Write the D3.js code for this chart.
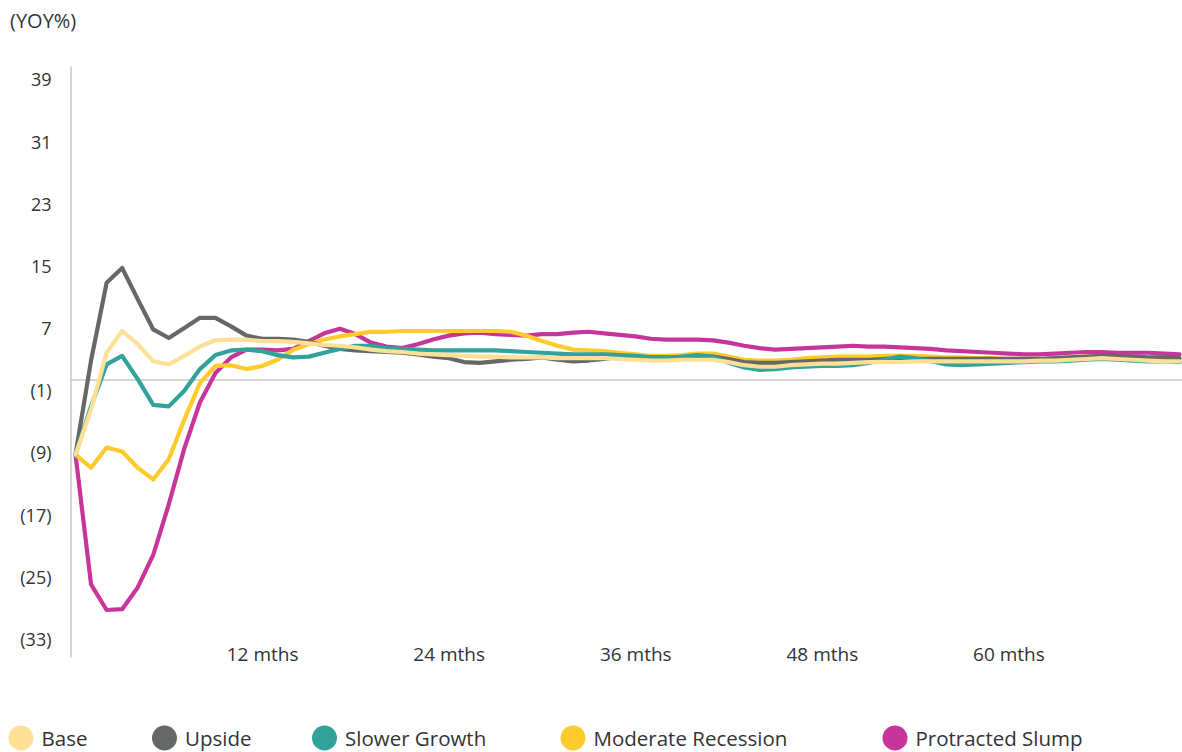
<!DOCTYPE html>
<html>
<head>
<meta charset="utf-8">
<script src="https://cdn.jsdelivr.net/npm/d3@7"></script>
<style>
  html, body { margin: 0; padding: 0; background: #ffffff; }
  svg { display: block; font-family: "Open Sans", "Noto Sans", sans-serif; }
</style>
</head>
<body>
<svg id="chart" width="1182" height="752"></svg>
<script>
// Monthly year-on-year change (%) per scenario, month 0 .. 71
const months = d3.range(0, 72);

const base = [
  -9.6, -3.8, 3.5, 6.3, 4.6, 2.4, 2.0, 3.1, 4.3, 5.1, 5.2, 5.2,
  5.0, 5.0, 4.9, 4.7, 4.5, 4.4, 4.2, 3.9, 3.7, 3.6, 3.4, 3.3,
  3.2, 3.1, 3.0, 3.0, 2.9, 2.9, 2.9, 2.8, 2.8, 2.8, 2.8, 2.7,
  2.6, 2.5, 2.5, 2.6, 2.6, 2.6, 2.3, 1.9, 1.7, 1.7, 1.9, 2.0,
  2.1, 2.1, 2.2, 2.3, 2.3, 2.3, 2.4, 2.4, 2.4, 2.4, 2.4, 2.4,
  2.4, 2.4, 2.5, 2.5, 2.6, 2.7, 2.8, 2.7, 2.6, 2.5, 2.4, 2.4
];

const upside = [
  -9.6, 2.5, 12.5, 14.4, 10.4, 6.5, 5.4, 6.7, 8.0, 8.0, 6.9, 5.7,
  5.3, 5.3, 5.2, 4.9, 4.4, 4.0, 3.8, 3.7, 3.6, 3.5, 3.3, 3.0,
  2.8, 2.3, 2.2, 2.4, 2.6, 2.7, 2.9, 2.6, 2.4, 2.5, 2.7, 3.0,
  3.0, 2.9, 2.9, 2.9, 3.0, 3.0, 2.7, 2.3, 2.2, 2.2, 2.3, 2.4,
  2.5, 2.6, 2.6, 2.6, 2.7, 2.7, 2.7, 2.7, 2.7, 2.7, 2.7, 2.7,
  2.7, 2.7, 2.7, 2.8, 2.9, 3.0, 3.1, 3.1, 3.0, 2.9, 2.9, 2.8
];

const slowerGrowth = [
  -9.6, -3.4, 2.0, 3.1, 0.1, -3.2, -3.4, -1.4, 1.4, 3.2, 3.8, 3.9,
  3.7, 3.2, 2.9, 3.0, 3.5, 4.0, 4.4, 4.4, 4.1, 4.0, 3.9, 3.8,
  3.8, 3.8, 3.8, 3.8, 3.7, 3.6, 3.5, 3.4, 3.3, 3.3, 3.3, 3.2,
  3.1, 2.9, 2.8, 3.0, 3.2, 3.0, 2.2, 1.6, 1.3, 1.4, 1.6, 1.7,
  1.8, 1.8, 1.9, 2.2, 2.6, 3.0, 2.8, 2.4, 2.0, 1.9, 2.0, 2.1,
  2.2, 2.3, 2.4, 2.4, 2.5, 2.6, 2.7, 2.6, 2.5, 2.4, 2.4, 2.3
];

const moderateRecession = [
  -9.6, -11.3, -8.7, -9.2, -11.3, -12.8, -10.2, -5.1, -0.4, 1.8, 1.9, 1.4,
  1.8, 2.6, 3.9, 4.6, 5.2, 5.6, 5.9, 6.2, 6.2, 6.3, 6.3, 6.3,
  6.3, 6.3, 6.3, 6.3, 6.2, 5.7, 5.0, 4.4, 3.9, 3.8, 3.7, 3.5,
  3.3, 3.1, 3.1, 3.2, 3.4, 3.4, 3.0, 2.6, 2.5, 2.5, 2.6, 2.8,
  2.9, 3.0, 3.0, 3.0, 3.1, 3.1, 3.1, 3.0, 2.9, 2.9, 2.8, 2.8,
  2.7, 2.7, 2.7, 2.8, 2.9, 3.0, 3.0, 3.0, 2.9, 2.8, 2.8, 2.7
];

const protractedSlump = [
  -9.6, -26.3, -29.6, -29.5, -26.7, -22.5, -16.0, -8.8, -2.9, 0.9, 2.9, 3.9,
  3.9, 3.8, 4.0, 5.0, 6.0, 6.6, 5.9, 4.8, 4.3, 4.1, 4.6, 5.2,
  5.7, 6.0, 6.1, 5.9, 5.8, 5.7, 5.9, 5.9, 6.1, 6.2, 6.0, 5.8,
  5.6, 5.3, 5.2, 5.2, 5.2, 5.1, 4.8, 4.4, 4.1, 3.9, 4.0, 4.1,
  4.2, 4.3, 4.4, 4.3, 4.3, 4.2, 4.1, 4.0, 3.8, 3.7, 3.6, 3.5,
  3.4, 3.3, 3.3, 3.4, 3.5, 3.6, 3.6, 3.5, 3.5, 3.5, 3.4, 3.3
];

const seriesNames = ["Base", "Upside", "Slower Growth", "Moderate Recession", "Protracted Slump"];
const seriesColors = ["#fde096", "#656867", "#31a39b", "#ffca2c", "#c7359a"];

const yTickValues = [39, 31, 23, 15, 7, -1, -9, -17, -25, -33];
const xTickValues = [12, 24, 36, 48, 60];

const fmtY = v => v < 0 ? "(" + Math.abs(v) + ")" : String(v);
const fmtX = v => v + " mths";

const svg = d3.select("#chart");

const x = d3.scaleLinear().domain([0, 71]).range([75.5, 1179.5]);
const y = d3.scaleLinear().domain([-35.65, 40.4]).range([657, 66]);

// Axis title
svg.append("text")
  .attr("x", 10).attr("y", 28)
  .attr("font-size", 20).attr("fill", "#333")
  .text("(YOY%)");

// Vertical axis with bracketed negative labels
const yAxis = d3.axisLeft(y).tickValues(yTickValues).tickFormat(fmtY).tickSize(0).tickPadding(19);
const gy = svg.append("g").attr("transform", "translate(70.5,0)").call(yAxis);
gy.select(".domain").attr("stroke", "#c8c8c8").attr("stroke-width", 1.5);
gy.selectAll(".tick text")
  .attr("font-size", 18).attr("fill", "#333")
  .attr("font-family", "\"Open Sans\", sans-serif")
  .attr("dy", "0.5em");

// Zero line across the plot
svg.append("line")
  .attr("x1", 70).attr("x2", 1182)
  .attr("y1", y(0)).attr("y2", y(0))
  .attr("stroke", "#c8c8c8").attr("stroke-width", 1.5);

// Month labels along the bottom
const xAxis = d3.axisBottom(x).tickValues(xTickValues).tickFormat(fmtX).tickSize(0).tickPadding(0);
const gx = svg.append("g").attr("transform", "translate(0,647)").call(xAxis);
gx.select(".domain").remove();
gx.selectAll(".tick text")
  .attr("font-size", 19).attr("fill", "#333")
  .attr("font-family", "\"Open Sans\", sans-serif");

// Scenario lines
const allSeries = [base, upside, slowerGrowth, moderateRecession, protractedSlump];
const line = d3.line().x((d, i) => x(months[i])).y(d => y(d)).curve(d3.curveLinear);
const drawOrder = [4, 3, 1, 2, 0];
svg.append("g").selectAll("path")
  .data(drawOrder)
  .join("path")
  .attr("d", k => line(allSeries[k]))
  .attr("fill", "none")
  .attr("stroke", k => seriesColors[k])
  .attr("stroke-width", 4.2)
  .attr("stroke-linejoin", "round")
  .attr("stroke-linecap", "round");

// Legend
const legendX = [21, 164.5, 324.5, 573, 895];
const legend = svg.append("g").selectAll("g")
  .data(seriesNames)
  .join("g")
  .attr("transform", (d, i) => `translate(${legendX[i]},738)`);
legend.append("circle").attr("r", 12.5).attr("fill", (d, i) => seriesColors[i]);
legend.append("text")
  .attr("x", 20.5).attr("y", 7.5)
  .attr("font-size", 20.5).attr("fill", "#333")
  .text(d => d);
</script>
</body>
</html>
